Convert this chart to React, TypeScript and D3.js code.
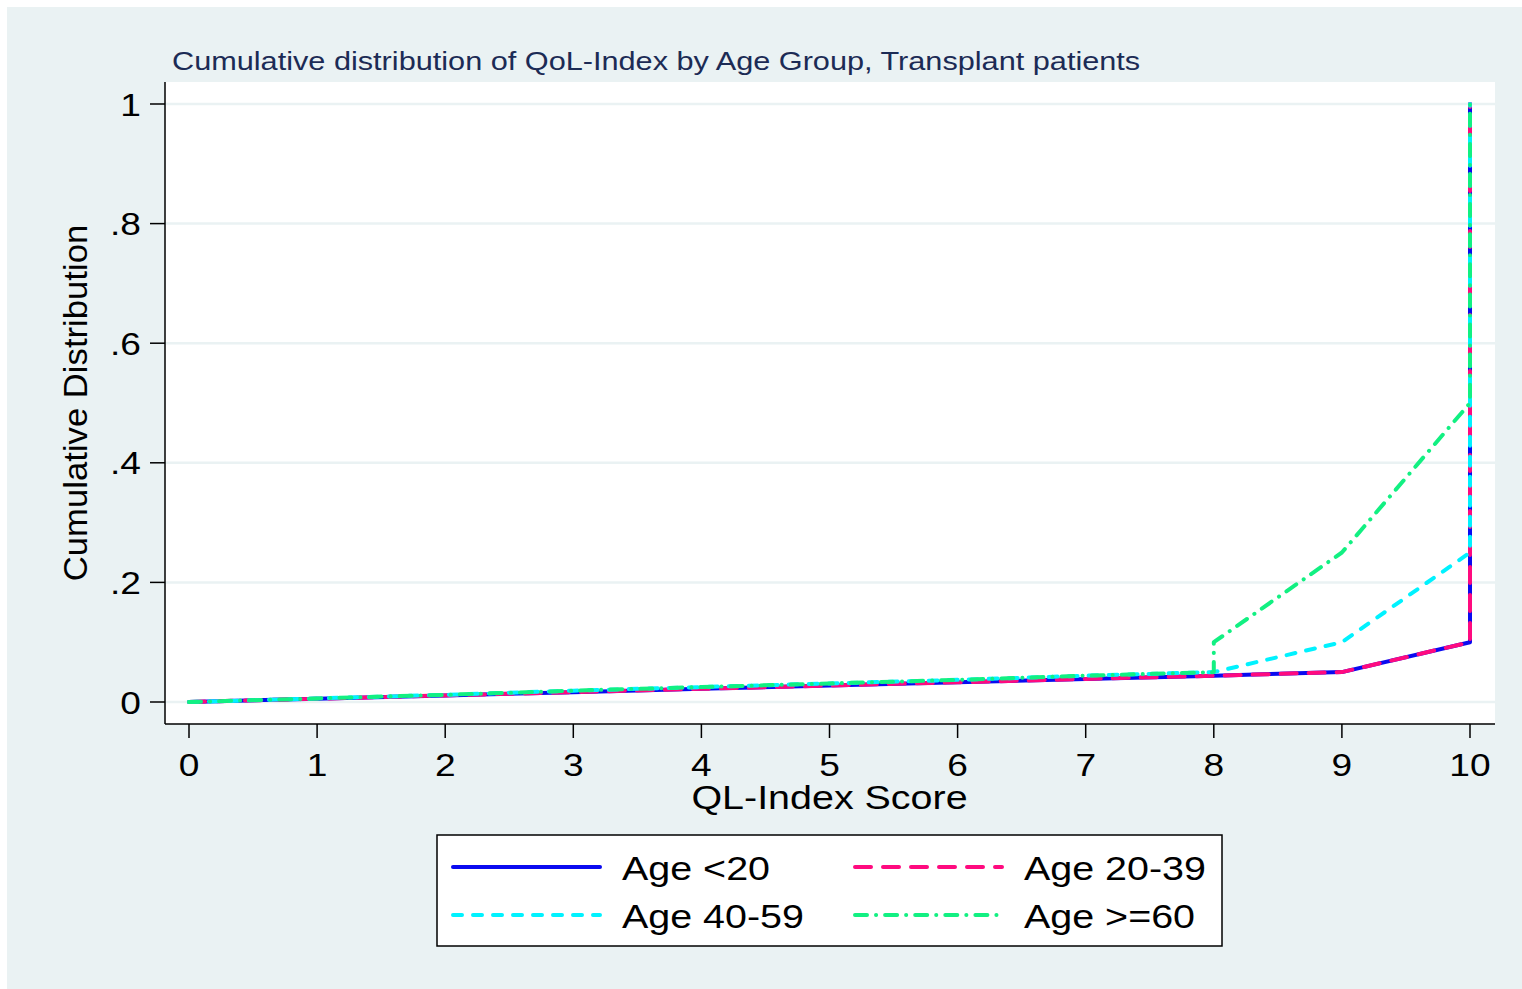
import React from 'react'
import * as d3 from 'd3'

// QL-Index score points and cumulative share per age group
// (repeated x = a vertical step in the CDF)
const xAgeU20 = [0, 1, 2, 3, 4, 5, 6, 7, 8, 9, 10, 10]
const yAgeU20 = [0, 0.0055, 0.011, 0.0165, 0.022, 0.0275, 0.033, 0.0385, 0.044, 0.05, 0.1, 1]

const xAge2039 = [0, 1, 2, 3, 4, 5, 6, 7, 8, 9, 10, 10]
const yAge2039 = [0, 0.0055, 0.011, 0.0165, 0.022, 0.0275, 0.033, 0.0385, 0.044, 0.05, 0.1, 1]

const xAge4059 = [0, 1, 2, 3, 4, 5, 6, 7, 8, 9, 10, 10]
const yAge4059 = [0, 0.006, 0.012, 0.019, 0.025, 0.031, 0.037, 0.044, 0.05, 0.1, 0.25, 1]

const xAge60 = [0, 1, 2, 3, 4, 5, 6, 7, 8, 8, 9, 10, 10]
const yAge60 = [0, 0.006, 0.012, 0.019, 0.025, 0.031, 0.037, 0.044, 0.05, 0.1, 0.25, 0.5, 1]

const seriesNames = ['Age <20', 'Age 20-39', 'Age 40-59', 'Age >=60']
const xTicks = [0, 1, 2, 3, 4, 5, 6, 7, 8, 9, 10]
const yTicks = [0, 0.2, 0.4, 0.6, 0.8, 1]
const yTickLabels = ['0', '.2', '.4', '.6', '.8', '1']

const W = 1522
const H = 989
const BG = '#eaf2f3'
const FONT = '"Liberation Sans", Arial, sans-serif'
// the original renderer draws glyphs a bit wider than Liberation Sans
const STRETCH = 1.16

// plot region (white box)
const plot = { left: 165, right: 1495, top: 82, bottom: 724 }

const styles = [
  { color: '#0a0af0', dash: undefined },
  { color: '#ff0a7f', dash: '16 12' },
  { color: '#00f2ff', dash: '9 11' },
  { color: '#12f082', dash: '12 9 0.1 9' },
]

type WideTextProps = {
  x: number
  y: number
  size: number
  anchor?: 'start' | 'middle' | 'end'
  fill?: string
  sx?: number
  rotate?: number
  children: React.ReactNode
}
function WideText({ x, y, size, anchor = 'start', fill = 'black', sx = STRETCH, rotate = 0, children }: WideTextProps) {
  return (
    <text transform={`translate(${x}, ${y}) rotate(${rotate}) scale(${sx}, 1)`}
      textAnchor={anchor} fontSize={size} fill={fill}>
      {children}
    </text>
  )
}

export default function App() {
  const x = d3.scaleLinear().domain([0, 10]).range([189, 1470])
  const y = d3.scaleLinear().domain([0, 1]).range([702, 104])

  const series = [
    d3.zip(xAgeU20, yAgeU20),
    d3.zip(xAge2039, yAge2039),
    d3.zip(xAge4059, yAge4059),
    d3.zip(xAge60, yAge60),
  ] as [number, number][][]

  const line = d3.line<[number, number]>()
    .x(d => x(d[0]))
    .y(d => y(d[1]))

  // legend layout: 2 columns x 2 rows
  const legend = { x: 437, y: 835, w: 785, h: 111 }
  const legendCols = [453, 855]
  const legendRows = [867, 915]

  return (
    <svg width={W} height={H} style={{ position: 'absolute', left: 0, top: 0, display: 'block' }}
      fontFamily={FONT}>
      <rect x={0} y={0} width={W} height={H} fill="white" />
      <rect x={7} y={7} width={W - 7} height={H - 7} fill={BG} />
      <rect x={plot.left} y={plot.top} width={plot.right - plot.left} height={plot.bottom - plot.top} fill="white" />

      {/* gridlines */}
      {yTicks.map((t, i) => (
        <line key={i} x1={plot.left} x2={plot.right} y1={y(t)} y2={y(t)} stroke={BG} strokeWidth={2.5} />
      ))}

      {/* title */}
      <WideText x={172} y={70} size={26} fill="#1c2b55" sx={1.18}>
        Cumulative distribution of QoL-Index by Age Group, Transplant patients
      </WideText>

      {/* series lines */}
      {series.map((s, i) => (
        <path key={i} d={line(s) ?? ''} fill="none" stroke={styles[i].color} strokeWidth={4}
          strokeDasharray={styles[i].dash} strokeLinecap="round" strokeLinejoin="round" />
      ))}

      {/* y axis */}
      <line x1={plot.left} x2={plot.left} y1={plot.top} y2={plot.bottom} stroke="black" strokeWidth={1.5} />
      {yTicks.map((t, i) => (
        <g key={i}>
          <line x1={plot.left - 15} x2={plot.left} y1={y(t)} y2={y(t)} stroke="black" strokeWidth={1.5} />
          <WideText x={141} y={y(t) + 11.5} anchor="end" size={32}>{yTickLabels[i]}</WideText>
        </g>
      ))}
      <WideText x={87} y={(y(0) + y(1)) / 2} anchor="middle" size={34} rotate={-90} sx={1.02}>
        Cumulative Distribution
      </WideText>

      {/* x axis */}
      <line x1={plot.left} x2={plot.right} y1={plot.bottom} y2={plot.bottom} stroke="black" strokeWidth={1.5} />
      {xTicks.map(t => (
        <g key={t}>
          <line x1={x(t)} x2={x(t)} y1={plot.bottom} y2={plot.bottom + 14} stroke="black" strokeWidth={1.5} />
          <WideText x={x(t)} y={776} anchor="middle" size={32}>{t}</WideText>
        </g>
      ))}
      <WideText x={(x(0) + x(10)) / 2} y={809} anchor="middle" size={34}>QL-Index Score</WideText>

      {/* legend */}
      <rect x={legend.x} y={legend.y} width={legend.w} height={legend.h} fill="white" stroke="black" strokeWidth={1.5} />
      {seriesNames.map((name, i) => {
        const lx = legendCols[i % 2]
        const ly = legendRows[Math.floor(i / 2)]
        return (
          <g key={name}>
            <line x1={lx} x2={lx + 147} y1={ly} y2={ly} stroke={styles[i].color} strokeWidth={4}
              strokeDasharray={styles[i].dash} strokeLinecap="round" />
            <WideText x={lx + 169} y={ly + 13} size={34}>{name}</WideText>
          </g>
        )
      })}
    </svg>
  )
}
